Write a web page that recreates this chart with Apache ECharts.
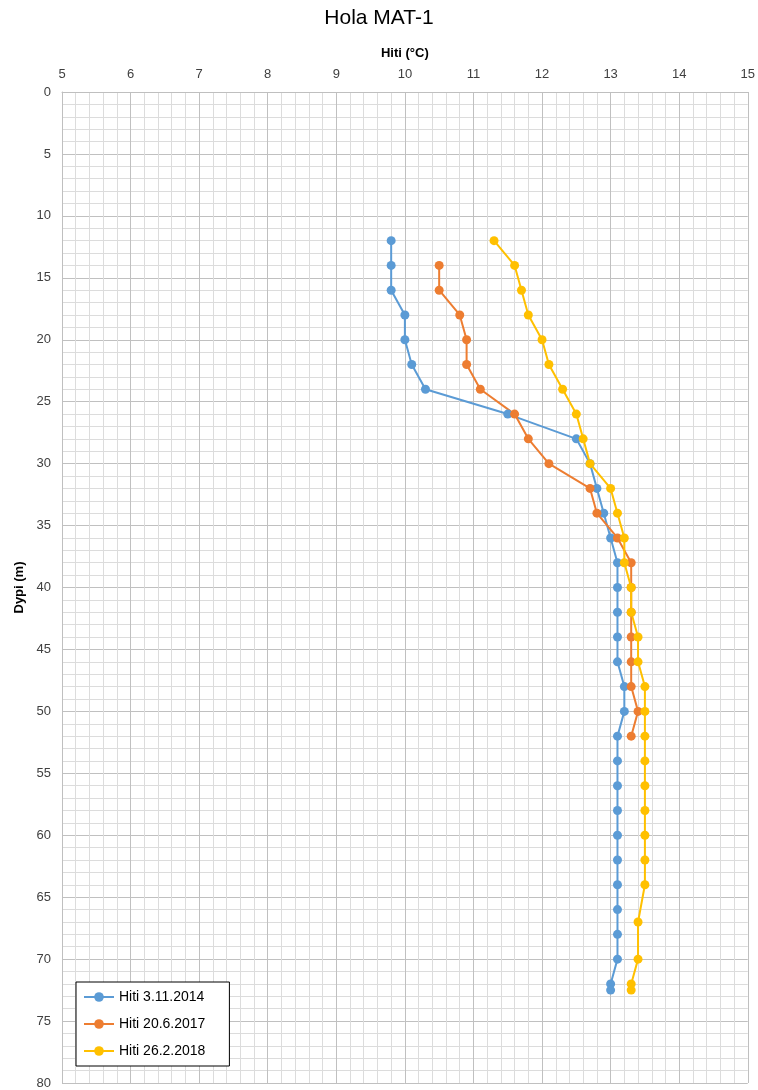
<!DOCTYPE html>
<html>
<head>
<meta charset="utf-8">
<script src="https://cdn.jsdelivr.net/npm/echarts@6/dist/echarts.min.js"></script>
<style>
html,body{margin:0;padding:0;background:#fff;}
#chart{width:758px;height:1090px;}
</style>
</head>
<body>
<div id="chart"></div>
<script>
var seriesNames = ['Hiti 3.11.2014', 'Hiti 20.6.2017', 'Hiti 26.2.2018'];

var depth2014 = [12,14,16,18,20,22,24,26,28,30,32,34,36,38,40,42,44,46,48,50,52,54,56,58,60,62,64,66,68,70,72,72.5];
var temp2014  = [9.8,9.8,9.8,10.0,10.0,10.1,10.3,11.5,12.5,12.7,12.8,12.9,13.0,13.1,13.1,13.1,13.1,13.1,13.2,13.2,13.1,13.1,13.1,13.1,13.1,13.1,13.1,13.1,13.1,13.1,13.0,13.0];

var depth2017 = [14,16,18,20,22,24,26,28,30,32,34,36,38,40,42,44,46,48,50,52];
var temp2017  = [10.5,10.5,10.8,10.9,10.9,11.1,11.6,11.8,12.1,12.7,12.8,13.1,13.3,13.3,13.3,13.3,13.3,13.3,13.4,13.3];

var depth2018 = [12,14,16,18,20,22,24,26,28,30,32,34,36,38,40,42,44,46,48,50,52,54,56,58,60,62,64,67,70,72,72.5];
var temp2018  = [11.3,11.6,11.7,11.8,12.0,12.1,12.3,12.5,12.6,12.7,13.0,13.1,13.2,13.2,13.3,13.3,13.4,13.4,13.5,13.5,13.5,13.5,13.5,13.5,13.5,13.5,13.5,13.4,13.4,13.3,13.3];

var colors = ['#5B9BD5', '#ED7D31', '#FFC000'];

function pairs(t, d) { return t.map(function (v, i) { return [v, d[i]]; }); }

var FONT = 'Liberation Sans';
var chart = echarts.init(document.getElementById('chart'));
chart.setOption({
  animation: false,
  backgroundColor: '#fff',
  title: {
    text: 'Hola MAT-1', left: 'center', top: 3,
    textStyle: { fontFamily: FONT, fontSize: 21, fontWeight: 'normal', color: '#000' }
  },
  grid: { left: 62, right: 8, top: 92, bottom: 7, containLabel: false },
  xAxis: {
    type: 'value', position: 'top', min: 5, max: 15, interval: 1,
    name: 'Hiti (°C)', nameLocation: 'middle', nameGap: 32,
    nameTextStyle: { fontFamily: FONT, fontSize: 13, fontWeight: 'bold', color: '#000' },
    axisLine: { show: true, lineStyle: { color: '#bfbfbf' } },
    axisTick: { show: false },
    axisLabel: { fontFamily: FONT, fontSize: 13, color: '#404040', margin: 11 },
    splitLine: { show: true, lineStyle: { color: '#c0c0c0', width: 1 } },
    minorTick: { show: false, splitNumber: 5 },
    minorSplitLine: { show: true, lineStyle: { color: '#dcdcdc', width: 1 } }
  },
  yAxis: {
    type: 'value', inverse: true, min: 0, max: 80, interval: 5,
    name: 'Dypi (m)', nameLocation: 'middle', nameGap: 33, nameRotate: 90,
    nameTextStyle: { fontFamily: FONT, fontSize: 13, fontWeight: 'bold', color: '#000' },
    axisLine: { show: true, lineStyle: { color: '#bfbfbf' } },
    axisTick: { show: false },
    axisLabel: { fontFamily: FONT, fontSize: 13, color: '#404040', margin: 11 },
    splitLine: { show: true, lineStyle: { color: '#c0c0c0', width: 1 } },
    minorTick: { show: false, splitNumber: 5 },
    minorSplitLine: { show: true, lineStyle: { color: '#dcdcdc', width: 1 } }
  },
  legend: {
    orient: 'vertical', left: 76, top: 982,
    backgroundColor: '#fff', borderColor: '#000', borderWidth: 1,
    padding: [8, 24, 8, 7], itemWidth: 30, itemHeight: 12, itemGap: 13,
    textStyle: { fontFamily: FONT, fontSize: 14, color: '#000' },
    data: seriesNames
  },
  series: [
    { name: seriesNames[0], data: pairs(temp2014, depth2014) },
    { name: seriesNames[1], data: pairs(temp2017, depth2017) },
    { name: seriesNames[2], data: pairs(temp2018, depth2018) }
  ].map(function (s, i) {
    return Object.assign(s, {
      type: 'line', symbol: 'circle', symbolSize: 9,
      itemStyle: { color: colors[i] },
      lineStyle: { color: colors[i], width: 2 }
    });
  })
});
</script>
</body>
</html>
